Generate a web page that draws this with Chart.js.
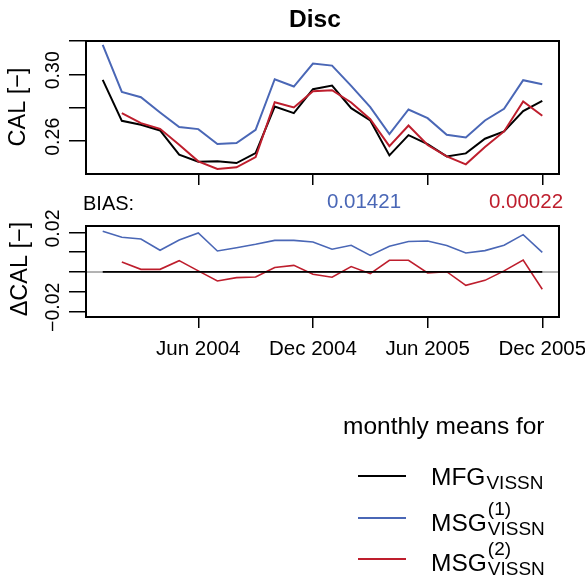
<!DOCTYPE html>
<html>
<head>
<meta charset="utf-8">
<title>Disc</title>
<script src="https://cdn.jsdelivr.net/npm/chart.js@4.4.0/dist/chart.umd.min.js"></script>
<style>
  body { margin: 0; background: #fff; }
  #wrap { position: relative; width: 585px; height: 581px; }
  #wrap canvas { position: absolute; left: 0; top: 0; }
</style>
</head>
<body>
<div id="wrap">
  <canvas id="calChart" width="585" height="581"></canvas>
  <canvas id="diffChart" width="585" height="581"></canvas>
</div>
<script>
// monthly means, Jan 2004 .. Dec 2005
const months = ['2004-01','2004-02','2004-03','2004-04','2004-05','2004-06',
                '2004-07','2004-08','2004-09','2004-10','2004-11','2004-12',
                '2005-01','2005-02','2005-03','2005-04','2005-05','2005-06',
                '2005-07','2005-08','2005-09','2005-10','2005-11','2005-12'];

const calMFG  = [0.2966, 0.2720, 0.2696, 0.2662, 0.2516, 0.2474, 0.2476, 0.2466, 0.2526, 0.2806, 0.2766, 0.2910,
                 0.2932, 0.2796, 0.2722, 0.2512, 0.2634, 0.2580, 0.2506, 0.2524, 0.2612, 0.2656, 0.2778, 0.2840];
const calMSG1 = [0.3176, 0.2894, 0.2862, 0.2770, 0.2682, 0.2670, 0.2580, 0.2586, 0.2666, 0.2970, 0.2926, 0.3064,
                 0.3052, 0.2930, 0.2802, 0.2640, 0.2788, 0.2736, 0.2636, 0.2620, 0.2722, 0.2792, 0.2964, 0.2940];
const calMSG2 = [null,   0.2766, 0.2706, 0.2672, 0.2576, 0.2476, 0.2430, 0.2440, 0.2502, 0.2832, 0.2800, 0.2898,
                 0.2904, 0.2830, 0.2730, 0.2568, 0.2692, 0.2574, 0.2506, 0.2458, 0.2562, 0.2656, 0.2836, 0.2750];

// differences to MFG
const dMFG  = [0, 0, 0, 0, 0, 0, 0, 0, 0, 0, 0, 0, 0, 0, 0, 0, 0, 0, 0, 0, 0, 0, 0, 0];
const dMSG1 = [0.0206, 0.0176, 0.0167, 0.0110, 0.0162, 0.0198, 0.0106, 0.0123, 0.0140, 0.0160, 0.0160, 0.0152,
               0.0115, 0.0135, 0.0084, 0.0130, 0.0154, 0.0157, 0.0134, 0.0096, 0.0108, 0.0135, 0.0189, 0.0099];
const dMSG2 = [null,   0.0050, 0.0013, 0.0013, 0.0057, 0.0005, -0.0046, -0.0029, -0.0026, 0.0022, 0.0033, -0.0012,
               -0.0027, 0.0027, -0.0009, 0.0059, 0.0059, -0.0005, 0.0001, -0.0068, -0.0043, 0.0005, 0.0060, -0.0088];

const biasMSG1 = '0.01421';
const biasMSG2 = '0.00022';

// axis ticks
const xTickMonths = ['2004-06', '2004-12', '2005-06', '2005-12'];
const xTickLabels = ['Jun 2004', 'Dec 2004', 'Jun 2005', 'Dec 2005'];
const calTicks = [0.26, 0.28, 0.30, 0.32];
const calTickLabels = { '0.26': '0.26', '0.3': '0.30' };
const diffTicks = [-0.02, -0.01, 0, 0.01, 0.02];
const diffTickLabels = { '0.02': '0.02', '-0.02': '\u22120.02' };

// legend
const legendMain = ['MFG', 'MSG', 'MSG'];
const legendSup  = ['', '(1)', '(2)'];
const legendSub  = ['VISSN', 'VISSN', 'VISSN'];

const BLACK = '#000000';
const BLUE = '#4A67B6';
const RED = '#BE1E2D';
const FONT = '"Liberation Sans", Arial, Helvetica, sans-serif';

function pts(arr) {
    return arr.map((v, i) => ({ x: i, y: v }));
}

function txt(ctx, s, x, y, opt) {
    ctx.save();
    ctx.font = opt.font;
    ctx.fillStyle = opt.color || '#000';
    ctx.textAlign = opt.align || 'left';
    ctx.textBaseline = opt.base || 'alphabetic';
    ctx.translate(x, y);
    if (opt.rot) ctx.rotate(opt.rot);
    ctx.fillText(s, 0, 0);
    ctx.restore();
}

function xScale() {
    return {
        type: 'linear',
        min: -0.875,
        max: 23.875,
        afterBuildTicks: (scale) => {
            scale.ticks = xTickMonths.map(m => ({ value: months.indexOf(m) }));
        },
        afterFit: (scale) => { scale.height = 11; },
        ticks: { display: false },
        grid: { drawOnChartArea: false, drawTicks: true, tickLength: 11, color: '#000', lineWidth: 1.5 },
        border: { display: false }
    };
}

function yScale(min, max, tickValues) {
    return {
        min: min,
        max: max,
        afterBuildTicks: (scale) => {
            scale.ticks = tickValues.map(v => ({ value: v }));
        },
        afterFit: (scale) => { scale.width = 86; },
        ticks: { display: false },
        grid: { drawOnChartArea: false, drawTicks: true, tickLength: 17, color: '#000', lineWidth: 1.5 },
        border: { display: false }
    };
}

// box round the plot area and rotated y tick labels
const boxPlugin = {
    id: 'box',
    afterDraw(chart) {
        const a = chart.chartArea;
        const ctx = chart.ctx;
        ctx.save();
        ctx.strokeStyle = '#000';
        ctx.lineWidth = 2;
        ctx.strokeRect(a.left, a.top, a.right - a.left, a.bottom - a.top);
        ctx.restore();
        const labels = chart.options.plugins.box.labels;
        const ys = chart.scales.y;
        Object.keys(labels).forEach(k => {
            const py = ys.getPixelForValue(parseFloat(k)) - 4;
            txt(ctx, labels[k], 54, py, { font: '19.5px ' + FONT, align: 'center', base: 'middle', rot: -Math.PI / 2 });
        });
    }
};

const lineDefaults = { pointRadius: 0, borderWidth: 2, tension: 0, fill: false, spanGaps: false };

const calChart = new Chart(document.getElementById('calChart'), {
    type: 'line',
    data: {
        datasets: [
            Object.assign({ label: 'MSG1', data: pts(calMSG1), borderColor: BLUE }, lineDefaults),
            Object.assign({ label: 'MSG2', data: pts(calMSG2), borderColor: RED }, lineDefaults),
            Object.assign({ label: 'MFG', data: pts(calMFG), borderColor: BLACK }, lineDefaults)
        ]
    },
    options: {
        responsive: false,
        animation: false,
        devicePixelRatio: 1,
        layout: { padding: { left: 0, top: 41, right: 26, bottom: 396 } },
        plugins: {
            legend: { display: false },
            tooltip: { enabled: false },
            box: { labels: calTickLabels }
        },
        scales: { x: xScale(), y: yScale(0.240, 0.320, calTicks) }
    },
    plugins: [boxPlugin]
});

// zero reference line
const zeroPlugin = {
    id: 'zero',
    beforeDatasetsDraw(chart) {
        const a = chart.chartArea;
        const y = chart.scales.y.getPixelForValue(0);
        const ctx = chart.ctx;
        ctx.save();
        ctx.strokeStyle = '#9a9a9a';
        ctx.lineWidth = 1.5;
        ctx.beginPath();
        ctx.moveTo(a.left, y);
        ctx.lineTo(a.right, y);
        ctx.stroke();
        ctx.restore();
    }
};

// title, axis titles, bias, x labels and legend
const textPlugin = {
    id: 'texts',
    afterDraw(chart) {
        const ctx = chart.ctx;
        const xs = chart.scales.x;
        txt(ctx, 'Disc', 315, 27, { font: 'bold 24.5px ' + FONT, align: 'center' });
        txt(ctx, 'CAL [\u2212]', 19, 107, { font: '23.5px ' + FONT, align: 'center', base: 'middle', rot: -Math.PI / 2 });
        txt(ctx, '\u0394CAL [\u2212]', 21, 269, { font: '23.5px ' + FONT, align: 'center', base: 'middle', rot: -Math.PI / 2 });

        txt(ctx, 'BIAS:', 83, 210, { font: '20px ' + FONT });
        txt(ctx, biasMSG1, 364, 208, { font: '20.5px ' + FONT, align: 'center', color: BLUE });
        txt(ctx, biasMSG2, 526, 208, { font: '20.5px ' + FONT, align: 'center', color: RED });

        xTickMonths.forEach((m, i) => {
            const px = xs.getPixelForValue(months.indexOf(m));
            txt(ctx, xTickLabels[i], px, 355, { font: '20.5px ' + FONT, align: 'center' });
        });

        txt(ctx, 'monthly means for', 343, 434, { font: '24.5px ' + FONT });
        const colors = [BLACK, BLUE, RED];
        const lineY = [476, 518, 559];
        const baseY = [485, 531, 571];
        legendMain.forEach((name, i) => {
            ctx.save();
            ctx.strokeStyle = colors[i];
            ctx.lineWidth = 2;
            ctx.beginPath();
            ctx.moveTo(358, lineY[i]);
            ctx.lineTo(406, lineY[i]);
            ctx.stroke();
            ctx.restore();
            ctx.save();
            ctx.font = '24.5px ' + FONT;
            const w = ctx.measureText(name).width;
            ctx.restore();
            txt(ctx, name, 431, baseY[i], { font: '24.5px ' + FONT });
            const sx = 431 + w + 1;
            if (legendSup[i]) txt(ctx, legendSup[i], sx, baseY[i] - 16, { font: '19px ' + FONT });
            txt(ctx, legendSub[i], sx, baseY[i] + 4, { font: '19px ' + FONT });
        });
    }
};

const thinLine = Object.assign({}, lineDefaults, { borderWidth: 1.6 });

const diffChart = new Chart(document.getElementById('diffChart'), {
    type: 'line',
    data: {
        datasets: [
            Object.assign({ label: 'MFG', data: pts(dMFG), borderColor: BLACK }, thinLine),
            Object.assign({ label: 'MSG1', data: pts(dMSG1), borderColor: BLUE }, thinLine),
            Object.assign({ label: 'MSG2', data: pts(dMSG2), borderColor: RED }, thinLine)
        ]
    },
    options: {
        responsive: false,
        animation: false,
        devicePixelRatio: 1,
        layout: { padding: { left: 0, top: 226, right: 26, bottom: 253 } },
        plugins: {
            legend: { display: false },
            tooltip: { enabled: false },
            box: { labels: diffTickLabels }
        },
        scales: { x: xScale(), y: yScale(-0.0229, 0.0233, diffTicks) }
    },
    plugins: [zeroPlugin, boxPlugin, textPlugin]
});
</script>
</body>
</html>
